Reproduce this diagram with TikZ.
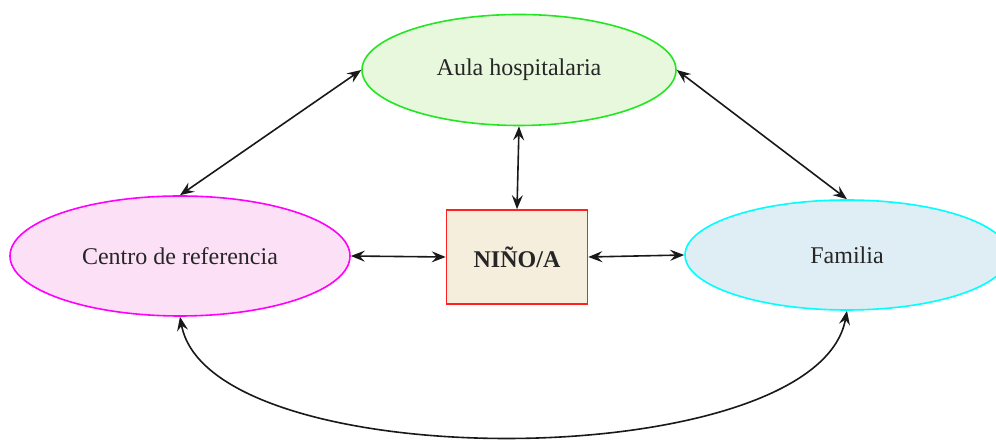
\documentclass[tikz,border=0pt]{standalone}
\usepackage{fontspec}
\setmainfont{Liberation Serif}
\usepackage{tikz}
\usetikzlibrary{shapes.geometric, arrows.meta, positioning, calc, backgrounds}

\definecolor{aulafill}{HTML}{E8F8DC}
\definecolor{aulaline}{HTML}{22E622}
\definecolor{centrofill}{HTML}{FCE0F6}
\definecolor{centroline}{HTML}{FF00FF}
\definecolor{famfill}{HTML}{DFEEF4}
\definecolor{famline}{HTML}{00FFFF}
\definecolor{ninofill}{HTML}{F5EEDC}
\definecolor{ninoline}{HTML}{FF2020}

\begin{document}
\begin{tikzpicture} [
    x=0.5pt, y=-0.5pt,
    every node/.style={font=\fontsize{12}{14}\selectfont, text=black!85},
    aula/.style={ellipse, draw=aulaline, line width=0.8pt, fill=aulafill, minimum width=157pt, minimum height=55.5pt, text centered},
    centro/.style={ellipse, draw=centroline, line width=0.8pt, fill=centrofill, minimum width=170pt, minimum height=60pt, text centered},
    familia/.style={ellipse, draw=famline, line width=0.8pt, fill=famfill, minimum width=162pt, minimum height=55pt, text centered},
    nino/.style={rectangle, draw=ninoline, line width=0.8pt, fill=ninofill, minimum width=70.5pt, minimum height=47pt, font=\fontsize{12}{14}\selectfont\bfseries, text centered},
    arrow/.style={{Stealth[length=7pt,width=5.5pt,inset=2.5pt]}-{Stealth[length=7pt,width=5.5pt,inset=2.5pt]}, line width=0.8pt, black!90}
]

\useasboundingbox (0,0) rectangle (996,442);

% Define all nodes first
\node[aula] (aula) at (519,70) {Aula hospitalaria};
\node[centro] (centro) at (180,256) {Centro de referencia};
\node[nino] (nino) at (517,257) {NIÑO/A};
\node[familia] (familia) at (847,255) {Familia};

% Draw all arrows
\begin{scope}[on background layer]
    \draw[arrow] (aula.west) -- (centro.north);
    \draw[arrow] (aula.east) -- (familia.north);
    \draw[arrow] (aula.south) -- (nino.north);
    \draw[arrow] (centro.east) -- (nino.west);
    \draw[arrow] (nino.east) -- (familia.west);
    \draw[arrow] (centro.south) .. controls +(30,162) and +(-30,165) .. (familia.south);
\end{scope}

\end{tikzpicture}
\end{document}
